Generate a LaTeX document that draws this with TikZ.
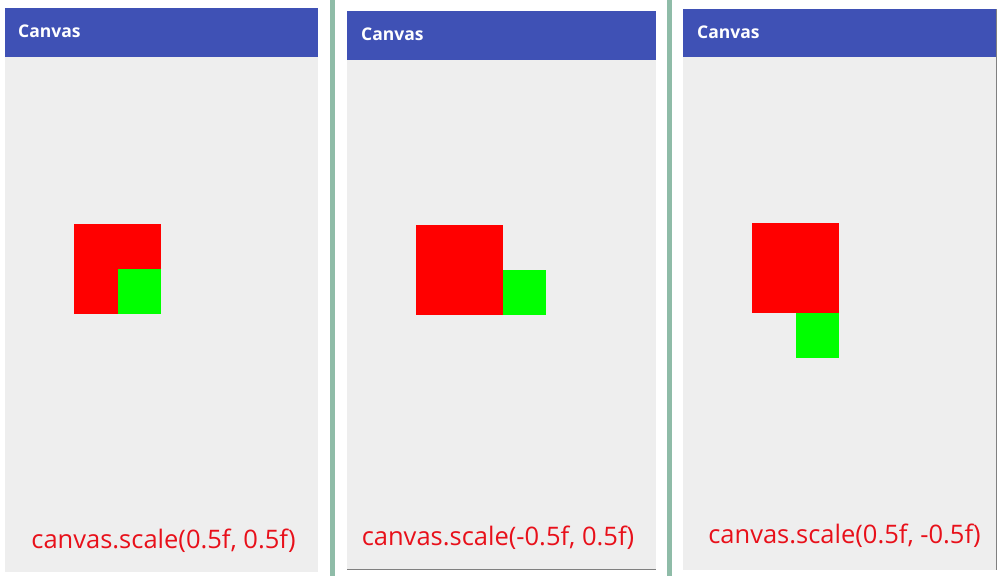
\documentclass[tikz,border=0pt]{standalone}
\usepackage{fontspec}
\setmainfont{Open Sans}
\usetikzlibrary{positioning}
\definecolor{barblue}{HTML}{3F51B5}
\definecolor{screen}{HTML}{EEEEEE}
\definecolor{sepgreen}{HTML}{8FBCA8}
\definecolor{callred}{HTML}{E8101A}
\definecolor{sqgreen}{HTML}{00FF00}
\newcommand{\cvs}[2]{canvas.scale(#1, #2)}
\tikzset{
  bar/.style={fill=barblue, inner sep=0pt, outer sep=0pt, anchor=north west},
  title/.style={text=white, font=\bfseries\fontsize{17.5}{20}\selectfont, anchor=west, inner sep=0pt},
  call/.style={text=callred, font=\fontsize{25.5}{28}\selectfont, anchor=base, inner sep=0pt},
  big/.style={fill=red, inner sep=0pt, outer sep=0pt, minimum width=87pt, minimum height=90pt},
  small/.style={fill=sqgreen, inner sep=0pt, outer sep=0pt, minimum width=43pt, minimum height=45pt},
}

\begin{document}
\begin{tikzpicture}[x=1pt,y=-1pt]
  \useasboundingbox[fill=white] (0,0) rectangle (1003,576);

  %% -- screens
  \fill[screen] (5,8) rectangle (318,572);
  \fill[screen] (347,11) rectangle (656,569);
  \fill[screen] (683,9) rectangle (996,570);
  \draw[gray, line width=0.8pt] (347,569) -- (656,569);
  \draw[gray, line width=0.8pt] (996,9) -- (996,570);

  %% -- separators
  \fill[sepgreen] (330,0) rectangle (335,576);
  \fill[sepgreen] (667,0) rectangle (672,576);

  %% -- app bars
  \node (h1) [bar, minimum width=313pt, minimum height=49pt] at (5,8) {};
  \node (h2) [bar, minimum width=309pt, minimum height=49pt] at (347,11) {};
  \node (h3) [bar, minimum width=313pt, minimum height=48pt] at (683,9) {};

  \node (t1) [title] at ([xshift=13pt,yshift=1pt]h1.west) {Canvas};
  \node (t2) [title] at ([xshift=14pt,yshift=1pt]h2.west) {Canvas};
  \node (t3) [title] at ([xshift=14pt,yshift=1pt]h3.west) {Canvas};

  %% -- squares
  %% scale(0.5, 0.5)
  \node (r1) [big] at (117.5,269) {};
  \node (g1) [small, anchor=south east] at (r1.south east) {};
  %% scale(-0.5, 0.5)
  \node (r2) [big] at (459,269.5) {};
  \node (g2) [small, anchor=south west] at (r2.south east) {};
  %% scale(0.5, -0.5)
  \node (r3) [big] at (795.5,268) {};
  \node (g3) [small, anchor=north east] at (r3.south east) {};

  %% -- captions
  \node (c1) [call] at (163.5,548) {\cvs{0.5f}{0.5f}};
  \node (c2) [call] at (498,545) {\cvs{-0.5f}{0.5f}};
  \node (c3) [call] at (844.5,543) {\cvs{0.5f}{-0.5f}};

\end{tikzpicture}
\end{document}
